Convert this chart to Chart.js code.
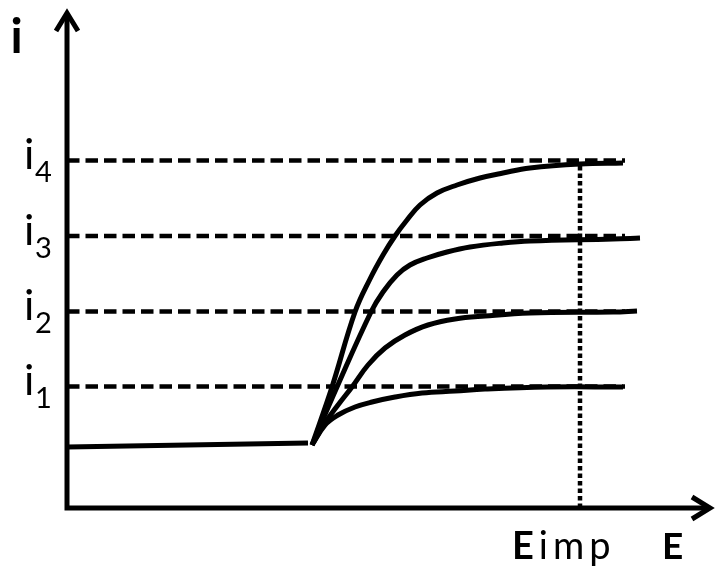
<!DOCTYPE html>
<html>
<head>
<meta charset="utf-8">
<script src="https://cdn.jsdelivr.net/npm/chart.js@4"></script>
<style>
  html, body { margin: 0; padding: 0; background: #fff; }
</style>
</head>
<body>
<canvas id="graphique" width="715" height="577"></canvas>
<script>
// Courbes intensité-potentiel (unités arbitraires)
// Paliers de diffusion i1..i4
const paliers = [24.3, 39.3, 54.4, 69.5];
const indicesPaliers = ['1', '2', '3', '4'];
const finPaliers = 111.6;

// Potentiel imposé et haut du pointillé vertical
const eImp = 102.6;
const eImpHaut = 68.8;

// Courant résiduel avant la vague
const baseE = [0, 48.2];
const baseI = [12.2, 13.0];

// Les quatre vagues
const vague1E = [49.0, 51.6, 54.2, 57.6, 61.0, 65.6, 71.0, 77.6, 83.6, 96.0, 111.2];
const vague1I = [12.6, 16.6, 18.6, 20.2, 21.2, 22.2, 23.0, 23.4, 23.8, 24.2, 24.2];
const vague2E = [49.0, 51.6, 54.2, 57.0, 60.2, 63.6, 67.6, 72.2, 77.6, 83.6, 92.6, 109.2, 114.0];
const vague2I = [12.6, 17.0, 20.6, 24.2, 28.6, 32.0, 34.6, 36.6, 37.8, 38.4, 39.0, 39.2, 39.4];
const vague3E = [49.0, 54.0, 60.8, 63.2, 66.0, 68.6, 72.0, 76.0, 80.6, 87.2, 92.6, 109.2, 114.6];
const vague3I = [12.6, 24.2, 39.2, 43.2, 46.6, 48.6, 50.0, 51.2, 52.2, 53.0, 53.4, 53.8, 54.0];
const vague4E = [49.0, 53.0, 57.6, 60.6, 63.2, 65.6, 68.0, 70.6, 74.0, 78.0, 82.6, 87.2, 92.6, 102.6, 111.2];
const vague4I = [12.6, 24.2, 39.2, 45.8, 50.6, 54.4, 57.6, 60.6, 63.0, 64.6, 66.0, 67.0, 68.0, 68.8, 69.0];

// Textes
const labelAxeI = 'i';
const labelAxeE = 'E';
const labelImp = ['E', 'imp'];

const POLICE = 'Lato, "Open Sans", sans-serif';
const EPAISSEUR = 5;

function points(xs, ys) {
    return xs.map((v, k) => ({ x: v, y: ys[k] }));
}

const jeux = [];

// lignes de palier en tirets
paliers.forEach(p => {
    jeux.push({
        data: [{ x: 0, y: p }, { x: finPaliers, y: p }],
        borderColor: '#000',
        borderWidth: 4.5,
        borderDash: [12.5, 6],
        pointRadius: 0,
        showLine: true
    });
});

// pointillé vertical à Eimp
jeux.push({
    data: [{ x: eImp, y: 0 }, { x: eImp, y: eImpHaut }],
    borderColor: '#000',
    borderWidth: 4.5,
    borderDash: [4.5, 3],
    pointRadius: 0,
    showLine: true
});

jeux.push({
    data: points(baseE, baseI),
    borderColor: '#000',
    borderWidth: EPAISSEUR,
    pointRadius: 0,
    showLine: true
});

[[vague1E, vague1I], [vague2E, vague2I], [vague3E, vague3I], [vague4E, vague4I]].forEach(v => {
    jeux.push({
        data: points(v[0], v[1]),
        borderColor: '#000',
        borderWidth: EPAISSEUR,
        pointRadius: 0,
        showLine: true,
        tension: 0.4
    });
});

// axes fléchés et textes
const dessinFigure = {
    id: 'dessinFigure',
    afterDatasetsDraw(chart) {
        const { ctx, chartArea: a, scales: { x, y } } = chart;
        ctx.save();
        ctx.strokeStyle = '#000';
        ctx.lineWidth = EPAISSEUR;
        ctx.lineJoin = 'miter';

        ctx.beginPath();
        ctx.moveTo(a.left, a.top + 3);
        ctx.lineTo(a.left, a.bottom);
        ctx.lineTo(a.right - 3, a.bottom);
        ctx.stroke();

        ctx.beginPath();
        ctx.moveTo(a.left - 11, a.top + 21);
        ctx.lineTo(a.left, a.top + 3);
        ctx.lineTo(a.left + 11, a.top + 21);
        ctx.moveTo(a.right - 21, a.bottom - 11);
        ctx.lineTo(a.right - 3, a.bottom);
        ctx.lineTo(a.right - 21, a.bottom + 11);
        ctx.stroke();

        ctx.fillStyle = '#000';
        ctx.textBaseline = 'alphabetic';

        ctx.font = 'bold 48px ' + POLICE;
        ctx.textAlign = 'center';
        ctx.fillText(labelAxeI, a.left - 50.5, a.top + 43);

        ctx.textAlign = 'left';
        paliers.forEach((p, k) => {
            const py = y.getPixelForValue(p);
            ctx.font = '43px ' + POLICE;
            ctx.fillText('i', 24, py + 8.5);
            ctx.font = '29px ' + POLICE;
            ctx.fillText(indicesPaliers[k], 35, py + 21.5);
        });

        const px = x.getPixelForValue(eImp);
        ctx.letterSpacing = '5px';
        ctx.font = 'bold 38px ' + POLICE;
        ctx.fillText(labelImp[0], px - 68, a.bottom + 51);
        const w = ctx.measureText(labelImp[0]).width;
        ctx.font = '38px ' + POLICE;
        ctx.fillText(labelImp[1], px - 68 + w, a.bottom + 51);
        ctx.letterSpacing = '0px';

        ctx.font = 'bold 37px ' + POLICE;
        ctx.fillText(labelAxeE, a.right - 51, a.bottom + 51);
        ctx.restore();
    }
};

new Chart(document.getElementById('graphique'), {
    type: 'scatter',
    data: { datasets: jeux },
    options: {
        responsive: false,
        animation: false,
        layout: { padding: { left: 67, right: 2, top: 10, bottom: 69 } },
        scales: {
            x: { type: 'linear', min: 0, max: 129.2, display: false },
            y: { type: 'linear', min: 0, max: 99.6, display: false }
        },
        plugins: {
            legend: { display: false },
            tooltip: { enabled: false }
        },
        elements: { line: { borderCapStyle: 'butt' } }
    },
    plugins: [dessinFigure]
});
</script>
</body>
</html>
